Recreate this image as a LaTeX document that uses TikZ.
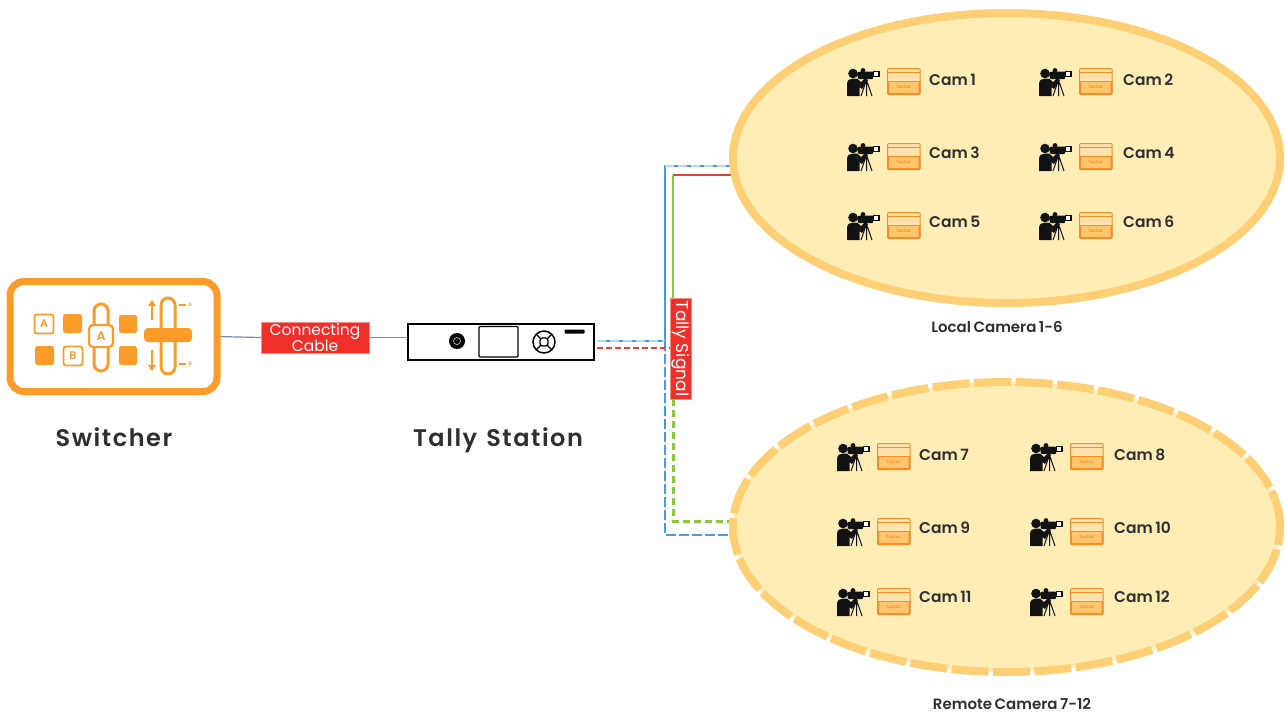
\documentclass[tikz,border=0pt]{standalone}
\usepackage{fontspec}
\setmainfont{Poppins}[BoldFont={Poppins SemiBold}]
\usetikzlibrary{shapes.geometric,backgrounds,calc}
\definecolor{ringc}{HTML}{FFCF75}
\definecolor{fillc}{HTML}{FEEDB5}
\definecolor{swo}{HTML}{FB9B2A}
\definecolor{tabo}{HTML}{FB8C24}
\definecolor{tabl}{HTML}{FDE3AE}
\definecolor{tabm}{HTML}{FFC56F}
\definecolor{labr}{HTML}{EE2F2A}
\definecolor{inkc}{HTML}{2E2E33}
\definecolor{bluel}{HTML}{4A9BDC}
\definecolor{greenl}{HTML}{8CC63F}
\definecolor{redl}{HTML}{EE3B36}
\definecolor{cablel}{HTML}{7F84BC}
\newcommand{\tightsp}[1]{{\spaceskip 2.5pt\relax #1}}
\newcommand{\widesp}[1]{{\spaceskip 9pt\relax #1}}
\tikzset{
 x=1pt,y=-1pt,
 oval/.style={ellipse,draw=ringc,fill=fillc,line width=8pt,minimum width=547pt,minimum height=290pt,inner sep=0pt,outer sep=0pt},
 redlabel/.style={fill=labr,draw=labr!55!white,line width=1pt,text=white,inner sep=0pt,outer sep=0pt,align=center},
 title/.style={text=inkc,anchor=base,inner sep=0pt,font=\fontsize{24}{26}\selectfont\bfseries\addfontfeature{LetterSpace=6.5}},
 sublabel/.style={text=inkc,font=\fontsize{15}{16}\selectfont\bfseries,anchor=center,inner sep=0pt},
 camlabel/.style={text=inkc,font=\fontsize{15.5}{17}\selectfont\bfseries,anchor=west,inner sep=0pt},
 panel/.style={draw=swo,line width=1.8pt,fill=white,rounded corners=2.5pt},
 solidpad/.style={fill=swo,rounded corners=2.5pt},
 padtxt/.style={text=swo,font=\fontsize{11}{11}\selectfont\bfseries,inner sep=0pt},
 sig/.style={line width=1.8pt},
 sigthin/.style={line width=1.4pt},
 gapdash/.style={dash pattern=on 9pt off 4pt},
}
\newcommand{\camunit}[6]{%
 \begin{scope}[shift={(#1,#2)}]
  % operator
  \fill[inkc!40!black] (6,5.5) circle (4.8);
  \fill[inkc!40!black] (0,28) -- (0,16) .. controls (0,12) and (3,10.5) .. (6,10.5)
    -- (10,10.5) -- (14,14) -- (18,10) -- (21,12) -- (15,21) -- (12.5,19) -- (12.5,28) -- cycle;
  \fill[inkc!40!black,rounded corners=1pt] (10,5) -- (12,3.5) -- (26,3.5) -- (26,11) -- (11,11) -- cycle;
  \fill[inkc!40!black] (16,2.5) circle (2.4);
  \draw[inkc!40!black,line width=1.2pt,fill=white] (26.5,3.5) rectangle (32,8.5);
  \draw[inkc!40!black,line width=1pt] (19.5,12) -- (14,28) (19.5,12) -- (19.5,28) (19.5,12) -- (25,28);
  % tablet
  \draw[tabo,fill=tabl,line width=1pt,rounded corners=1pt] (40.5,0.5) rectangle (73,26.5);
  \fill[tabm] (41,13) rectangle (72.5,25);
  \draw[tabo,line width=0.6pt] (41,4) -- (72.5,4) (41,13) -- (72.5,13);
  \draw[tabo,line width=1.8pt,rounded corners=1pt] (41,13) -- (41,26) -- (72.5,26) -- (72.5,13);
  \node[text=tabo,font=\fontsize{4}{4}\selectfont\bfseries,inner sep=0pt] (tab#5) at (56.5,19) {TaxTax};
 \end{scope}
 \node[camlabel] (cam#5) at ($(#1,#2)+(#6,#4)$) {\tightsp{#3}};
}
\begin{document}
\begin{tikzpicture}
\useasboundingbox (0,0) rectangle (1285,716);
% main shapes
\node[oval] (local) at (1006.5,158) {};
\node[oval,dash pattern=on 37pt off 4.5pt] (remote) at (1006.5,527) {};
\node[draw=swo,fill=white,line width=7pt,rounded corners=14pt,minimum width=207pt,minimum height=110pt,inner sep=0pt,outer sep=0pt] (switcher) at (113.5,336.5) {};
\node[draw=black,fill=white,line width=1.2pt,minimum width=186pt,minimum height=36pt,inner sep=0pt,outer sep=0pt] (station) at (501,342) {};
\node[redlabel,minimum width=108pt,minimum height=31pt,font=\fontsize{15.5}{12.5}\selectfont] (cable) at (315,337.5) {Connecting\\[-1pt]Cable};
\node[redlabel,rotate=-90,minimum width=101pt,minimum height=21pt,font=\fontsize{17}{17}\selectfont] (tally) at (681,348.5) {Tally Signal};
% switcher artwork
\draw[panel] (34.5,314.5) rectangle (53.5,333.5);
\node[padtxt] (pa) at (44,324) {A};
\fill[solidpad] (63,314) rectangle (82,333);
\fill[solidpad] (35,346) rectangle (54,365);
\draw[panel] (63.5,346.5) rectangle (82.5,365.5);
\node[padtxt] (pb) at (73,356) {B};
\draw[swo,line width=3pt,rounded corners=7pt] (94,304) rectangle (108,371);
\draw[panel,line width=2.2pt,rounded corners=4pt] (89,325) rectangle (113,347);
\node[padtxt,font=\fontsize{12.5}{12}\selectfont\bfseries] (pc) at (101,336) {A};
\fill[solidpad] (119,315) rectangle (137,333);
\fill[solidpad] (119,346) rectangle (137,365);
\draw[swo,line width=3pt,rounded corners=7pt] (161,298) rectangle (175,374);
\fill[swo,rounded corners=4pt] (144,328) rectangle (192,342);
\draw[swo,line width=1.8pt] (152,320) -- (152,306);
\fill[swo] (148,306) -- (156,306) -- (152,300) -- cycle;
\draw[swo,line width=1.8pt] (152,350) -- (152,365);
\fill[swo] (148,365) -- (156,365) -- (152,371) -- cycle;
\draw[swo,line width=2pt] (179,305) -- (186,305) (179,364) -- (186,364);
\node[padtxt,font=\fontsize{5}{5}\selectfont\bfseries] (ta) at (190,305) {A};
\node[padtxt,font=\fontsize{5}{5}\selectfont\bfseries] (tb) at (190,364) {B};
% station artwork
\fill[black] (457,341) circle (8);
\draw[white,line width=0.5pt] (457,341) circle (3.5);
\draw[black,line width=1.1pt,rounded corners=1pt] (479,326.5) rectangle (518,357);
\draw[black,line width=1.5pt] (544,342) circle (11);
\draw[black,line width=1.3pt,rounded corners=2.5pt] (540,338) rectangle (548,346);
\draw[black,line width=1.3pt] (536.2,334.2) -- (540.5,338.5) (551.8,334.2) -- (547.5,338.5) (536.2,349.8) -- (540.5,345.5) (551.8,349.8) -- (547.5,345.5);
\fill[black,rounded corners=0.8pt] (564.5,329.5) rectangle (584.5,333.5);
% connector ends
\coordinate (blueout) at ($(station.east)+(3,-1)$);
\coordinate (redout) at ($(station.east)+(3,6)$);
\coordinate (localblue) at (733,166);
\coordinate (localred) at (733,175);
\coordinate (remotegreen) at (733,521);
\coordinate (remoteblue) at (732,535);
\coordinate (bluecorner) at (665,341);
\coordinate (greencorner) at (673,175);
\coordinate (greenjoin) at (673,399);
\begin{scope}[on background layer]
 \draw[cablel,line width=1.2pt] (switcher.east) -- (cable.west);
 \draw[cablel,line width=1.2pt] (cable.east) -- (cable.east -| station.west);
 % blue
 \draw[bluel,sig] (blueout) -- (bluecorner) -- (bluecorner |- localblue) -- (localblue);
 \draw[white!60!bluel,sig,gapdash] (blueout) -- (bluecorner);
 \draw[white!60!bluel,sig,gapdash] (bluecorner |- localblue) -- (localblue);
 \draw[bluel,sigthin,dash pattern=on 10pt off 3pt] (bluecorner) -- (bluecorner |- remoteblue) -- (remoteblue);
 % red
 \draw[redl,sigthin,dash pattern=on 6pt off 3pt] (redout) -- (redout -| tally.north);
 \draw[redl,sigthin] (greencorner) -- (localred);
 % green
 \draw[greenl,sig] (greencorner) -- (greenjoin);
 \draw[greenl,line width=3pt,dash pattern=on 7pt off 4pt] (greenjoin) -- (greenjoin |- remotegreen) -- (remotegreen);
\end{scope}
% cameras
\camunit{847}{68}{Cam 1}{12}{a}{82}
\camunit{1039}{68}{Cam 2}{12}{b}{84}
\camunit{847}{143}{Cam 3}{10}{c}{82}
\camunit{1039}{143}{Cam 4}{10}{d}{84}
\camunit{847}{212}{Cam 5}{10}{e}{82}
\camunit{1039}{212}{Cam 6}{10}{f}{84}
\camunit{837}{443}{Cam 7}{12}{g}{82}
\camunit{1030}{443}{Cam 8}{12}{h}{84}
\camunit{837}{518}{Cam 9}{10}{i}{82}
\camunit{1030}{518}{Cam 10}{10}{j}{84}
\camunit{837}{588}{Cam 11}{9}{k}{82}
\camunit{1030}{588}{Cam 12}{9}{l}{84}
% titles
\node[title] (swt) at (114,446) {Switcher};
\node[title] (stt) at (498,446) {\widesp{Tally Station}};
\node[sublabel] (lct) at (997,326.5) {\tightsp{Local Camera 1-6}};
\node[sublabel] (rct) at (1012,703.5) {\tightsp{Remote Camera 7-12}};
\end{tikzpicture}
\end{document}
